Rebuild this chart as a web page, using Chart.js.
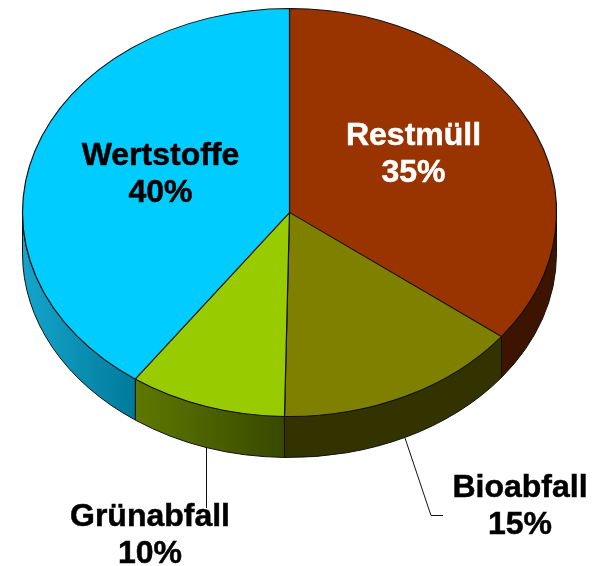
<!DOCTYPE html>
<html>
<head>
<meta charset="utf-8">
<title>Abfall</title>
<style>
  html, body { margin: 0; padding: 0; background: #fff; }
  canvas { display: block; }
</style>
<script src="https://cdn.jsdelivr.net/npm/chart.js@4/dist/chart.umd.js"></script>
</head>
<body>
<canvas id="pie" width="602" height="566"></canvas>
<script>
const categories = ['Restmüll', 'Bioabfall', 'Grünabfall', 'Wertstoffe'];
// slice shares, labels round them
const shares = [35.4, 14.9, 9.5, 40.2];

const topColors = ['#993300', '#808000', '#99CC00', '#00CCFF'];
const wallColors = [['#3D1400', '#3D1400'], ['#333300', '#333300'], ['#5F7800', '#384800'], ['#14A5CC', '#007A9A']];
const textColors = ['#fff', '#000', '#000', '#000'];
const labelSpots = [[413.5, 145], [520, 497], [150, 526], [160.5, 165]];

const FONT = 'bold 32px "Liberation Sans", Arial, sans-serif';
const LINE_HEIGHT = 37;
const TILT = 204 / 267;
const TOP_Y = 212.5;
const DEPTH = 41;
const EDGE = '#111';

// squashes the round pie into an ellipse and puts the side wall under it
const tiltPlugin = {
  id: 'tilt',
  beforeDatasetsDraw(chart) {
    const ctx = chart.ctx;
    const arcs = chart.getDatasetMeta(0).data;

    arcs.forEach((arc, i) => {
      const start = Math.max(arc.startAngle, 0);
      const end = Math.min(arc.endAngle, Math.PI);
      if (end <= start) return;

      const rx = arc.outerRadius;
      const ry = rx * TILT;
      const x0 = arc.x + rx * Math.cos(start);
      const x1 = arc.x + rx * Math.cos(end);
      const grad = ctx.createLinearGradient(Math.min(x0, x1), 0, Math.max(x0, x1), 0);
      grad.addColorStop(0, wallColors[i][0]);
      grad.addColorStop(1, wallColors[i][1]);

      ctx.beginPath();
      ctx.ellipse(arc.x, TOP_Y, rx, ry, 0, start, end);
      ctx.ellipse(arc.x, TOP_Y + DEPTH, rx, ry, 0, end, start, true);
      ctx.closePath();
      ctx.fillStyle = grad;
      ctx.fill();
      ctx.strokeStyle = EDGE;
      ctx.lineWidth = 1;
      ctx.stroke();
    });

    ctx.save();
    ctx.translate(0, TOP_Y - arcs[0].y * TILT);
    ctx.scale(1, TILT);
  },
  afterDatasetsDraw(chart) {
    const ctx = chart.ctx;
    ctx.restore();

    // leader lines
    ctx.strokeStyle = EDGE;
    ctx.lineWidth = 1;
    ctx.beginPath();
    ctx.moveTo(206.5, 447);
    ctx.lineTo(206.5, 508);
    ctx.moveTo(405, 438);
    ctx.lineTo(431, 515.5);
    ctx.lineTo(443, 515.5);
    ctx.stroke();

    // labels, with a hair of stroke since the original face is heavier
    ctx.font = FONT;
    ctx.textAlign = 'center';
    ctx.textBaseline = 'alphabetic';
    ctx.lineWidth = 0.5;
    categories.forEach((name, i) => {
      const pct = Math.round(shares[i]) + '%';
      const x = labelSpots[i][0];
      const y = labelSpots[i][1];
      ctx.fillStyle = textColors[i];
      ctx.strokeStyle = textColors[i];
      ctx.fillText(name, x, y);
      ctx.strokeText(name, x, y);
      ctx.fillText(pct, x, y + LINE_HEIGHT);
      ctx.strokeText(pct, x, y + LINE_HEIGHT);
    });
  }
};

new Chart(document.getElementById('pie'), {
  type: 'pie',
  data: {
    labels: categories,
    datasets: [{
      data: shares,
      backgroundColor: topColors,
      borderColor: EDGE,
      borderWidth: 1.2,
      radius: 267
    }]
  },
  options: {
    responsive: false,
    animation: false,
    layout: { padding: { right: 23 } },
    plugins: { legend: { display: false }, tooltip: { enabled: false } }
  },
  plugins: [tiltPlugin]
});
</script>
</body>
</html>
